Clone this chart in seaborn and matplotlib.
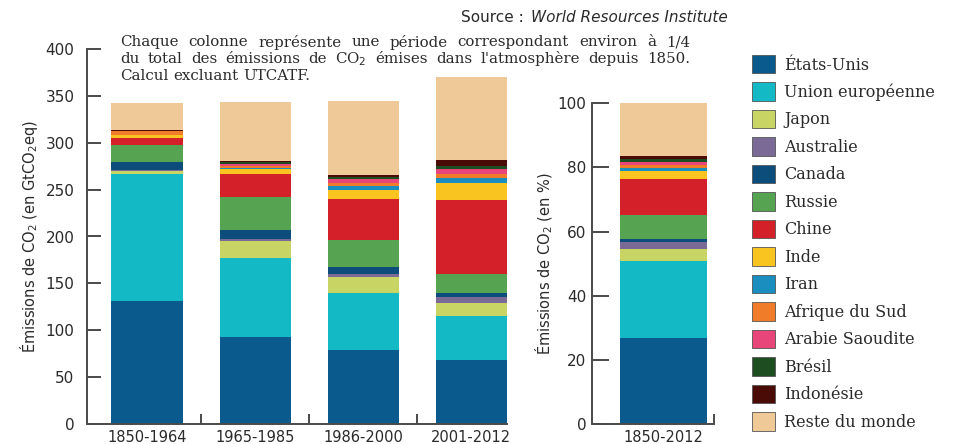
import numpy as np
import pandas as pd
import matplotlib
matplotlib.use("Agg")
import matplotlib.pyplot as plt
import matplotlib.patches as mpatches
import seaborn as sns

# ---------------- data ----------------
periods = ["1850-1964", "1965-1985", "1986-2000", "2001-2012"]
countries = ["États-Unis", "Union européenne", "Japon", "Australie", "Canada",
             "Russie", "Chine", "Inde", "Iran", "Afrique du Sud",
             "Arabie Saoudite", "Brésil", "Indonésie", "Reste du monde"]
colors = ["#0b5a8e", "#13b9c4", "#c8d464", "#7b6a96", "#0d4d7c",
          "#56a352", "#d42028", "#f9c41f", "#1a8fbf", "#f07c2a",
          "#e8457a", "#1d4d21", "#4a0a05", "#efc998"]

# GtCO2eq per period (bottom to top in the legend order)
etats_unis = [131, 93, 79, 68]
union_europeenne = [136, 84, 61, 47]
japon = [2.5, 18, 17, 14.5]
australie = [1, 2.5, 3.5, 5.5]
canada = [9, 9, 7, 5]
russie = [18.5, 36, 29, 20]
chine = [7, 24, 43, 79]
inde = [3, 5, 10, 17.7]
iran = [0.5, 2, 4.5, 6]
afrique_du_sud = [3.5, 2, 3.5, 4]
arabie_saoudite = [0.3, 2, 3.5, 5]
bresil = [0.5, 1.5, 2, 4]
indonesie = [1, 1, 3, 5.6]
reste_du_monde = [29, 63, 78, 89.3]

# share of cumulative emissions 1850-2012 (%)
period_total = ["1850-2012"]
share_pct = [26.8, 23.9, 3.8, 2.1, 1.1, 7.5, 11.1, 2.6, 1.0, 1.0, 0.9, 0.9, 0.9, 16.4]

series = [etats_unis, union_europeenne, japon, australie, canada, russie, chine,
          inde, iran, afrique_du_sud, arabie_saoudite, bresil, indonesie,
          reste_du_monde]

note_lines = ["Chaque colonne représente une période correspondant environ à 1/4",
              "du total des émissions de CO$_2$ émises dans l'atmosphère depuis 1850.",
              "Calcul excluant UTCATF."]

# ---------------- style ----------------
sns.set_theme(style="white")
plt.rcParams["font.family"] = ["DejaVu Sans"]
txt = "#2a2a2a"
spine_c = "#4a4a4a"

W, H = 959, 444
fig = plt.figure(figsize=(W / 100, H / 100), dpi=100)
ax1 = fig.add_axes([87 / W, 20 / H, 420 / W, 375 / H])
ax2 = fig.add_axes([592 / W, 20 / H, 122 / W, 320.7 / H])

# stacked bars: draw cumulative totals from top layer down
df = pd.DataFrame({c: v for c, v in zip(countries, series)}, index=periods)
cum = df.cumsum(axis=1)
for c, col in zip(countries[::-1], colors[::-1]):
    sns.barplot(x=periods, y=cum[c].values, color=col, width=0.66,
                saturation=1, ax=ax1, linewidth=0)

share = pd.Series(share_pct, index=countries).cumsum()
for c, col in zip(countries[::-1], colors[::-1]):
    sns.barplot(x=period_total, y=[share[c]], color=col, width=0.7,
                saturation=1, ax=ax2, linewidth=0)

# ---------------- axes styling ----------------
for ax in (ax1, ax2):
    for s in ("top", "right"):
        ax.spines[s].set_visible(False)
    for s in ("left", "bottom"):
        ax.spines[s].set_color(spine_c)
        ax.spines[s].set_linewidth(1.4)
    ax.set_xlabel("")
    ax.tick_params(axis="y", direction="in", length=10, width=1.4,
                   color=spine_c, labelsize=11, labelcolor=txt, left=True)
    ax.tick_params(axis="x", which="major", length=0, labelsize=10.5,
                   labelcolor=txt, pad=4)
    ax.tick_params(axis="x", which="minor", direction="in", length=7,
                   width=1.4, color=spine_c, bottom=True)
    ax.grid(False)

ax1.set_xlim(-0.556, 3.33)
ax1.set_ylim(0, 400)
ax1.set_yticks(np.arange(0, 401, 50))
ax1.set_xticks([0.5, 1.5, 2.5], minor=True)
ax1.tick_params(axis="y", pad=9)
ax1.set_ylabel("Émissions de CO$_2$ (en GtCO$_2$eq)", fontsize=10.5,
               color=txt, labelpad=4)

ax2.set_xlim(-0.58, 0.41)
ax2.set_ylim(0, 100)
ax2.set_yticks(np.arange(0, 101, 20))
ax2.set_xticks([0.41], minor=True)
ax2.tick_params(axis="y", pad=4, length=12)
ax2.set_ylabel("Émissions de CO$_2$ (en %)", fontsize=10.5, color=txt,
               labelpad=2)

# ---------------- legend ----------------
handles = [mpatches.Patch(facecolor=col, edgecolor="#555555", linewidth=0.6)
           for col in colors]
fig.legend(handles, countries, loc="upper left",
           bbox_to_anchor=(752 / W, 389 / H), frameon=False,
           prop={"family": "DejaVu Serif", "size": 11.5},
           handlelength=1.45, handleheight=1.4, handletextpad=0.55,
           labelspacing=0.56, borderpad=0, borderaxespad=0,
           labelcolor=txt)

# ---------------- texts ----------------
fig.canvas.draw()
renderer = fig.canvas.get_renderer()
x_left, x_right = 120, 690
line_y = [42, 59, 76]
for i, (line, yy) in enumerate(zip(note_lines, line_y)):
    words = line.split(" ")
    justify = i < len(note_lines) - 1
    objs = [fig.text(0, 1 - yy / H, w, ha="left", va="center",
                     family="DejaVu Serif", fontsize=10.8, color=txt)
            for w in words]
    widths = [o.get_window_extent(renderer).width for o in objs]
    if justify and len(words) > 1:
        gap = (x_right - x_left - sum(widths)) / (len(words) - 1)
    else:
        gap = 5
    x = x_left
    for o, w in zip(objs, widths):
        o.set_x(x / W)
        x += w + gap

t_it = fig.text(728 / W, 1 - 18 / H, "World Resources Institute",
                ha="right", va="center", fontsize=11, style="italic",
                color=txt)
fig.canvas.draw()
bb = t_it.get_window_extent()
fig.text(bb.x0 / W - 0.003, 1 - 18 / H, "Source : ", ha="right",
         va="center", fontsize=11, color=txt)

fig.savefig("out.png", dpi=100)
